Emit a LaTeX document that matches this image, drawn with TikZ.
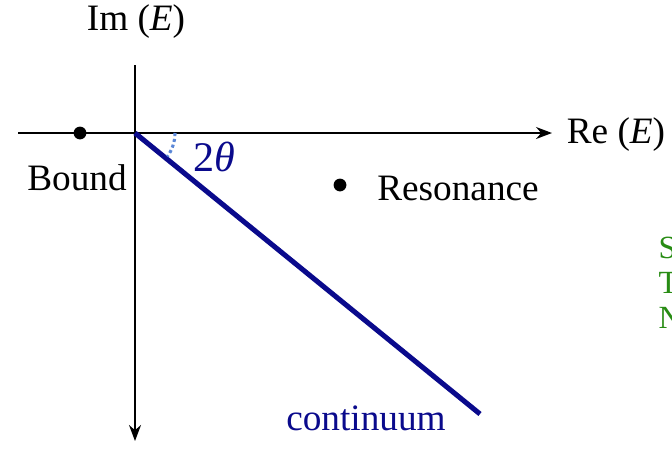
\documentclass[tikz,border=0pt]{standalone}
\usepackage{fontspec}
\setmainfont{Liberation Serif}
\usetikzlibrary{arrows.meta,positioning}
\definecolor{contB}{RGB}{10,10,140}
\definecolor{arcB}{RGB}{90,135,215}
\definecolor{noteG}{RGB}{40,140,20}

\begin{document}
\begin{tikzpicture}[x=0.025cm, y=-0.025cm, font=\fontsize{26.5}{30}\selectfont, >={Stealth[length=4mm,width=3mm]},
  ax/.style={draw=black, line width=1.2pt},
  dot/.style={circle, fill=black, inner sep=0pt, minimum size=3.2mm},
  lbl/.style={inner sep=1pt}]
  \useasboundingbox (0,0) rectangle (672,456);
  \coordinate (O) at (135,133);
  \coordinate (xl) at (18,133);
  \coordinate (xr) at (552,133);
  \coordinate (yt) at (135,65);
  \coordinate (yb) at (135,441);
  \coordinate (C) at (480,414);
  \draw[ax,->] (xl) -- (xr);
  \draw[ax,->] (yt) -- (yb);
  \node[lbl] (re) at (616,135) {Re (\textit{E})};
  \node[lbl] (im) at (136,22) {Im (\textit{E})};
  \node[dot] (bd) at (80,133) {};
  \node[lbl] (bdl) at (77,178) {Bound};
  \node[dot] (rs) at (340,185) {};
  \node[lbl] (rsl) at (458,188) {Resonance};
  \draw[contB, line width=3.6pt] (O) -- (C);
  \draw[arcB, dotted, line width=2.2pt] ([xshift=40*0.025cm]O) arc[start angle=0, end angle=-36, radius=1cm];
  \node[lbl, text=contB, font=\fontsize{30}{34}\selectfont] (ang) at (214,157) {2\textit{θ}};
  \node[lbl, text=contB] (ct) at (366,418) {continuum};
  \begin{scope}
    \clip (0,0) rectangle (672,456);
    \node[lbl, text=noteG, anchor=west, align=left, font=\fontsize{23}{25}\selectfont] (nt) at (657,283) {S\\T\\N};
  \end{scope}
\end{tikzpicture}
\end{document}
